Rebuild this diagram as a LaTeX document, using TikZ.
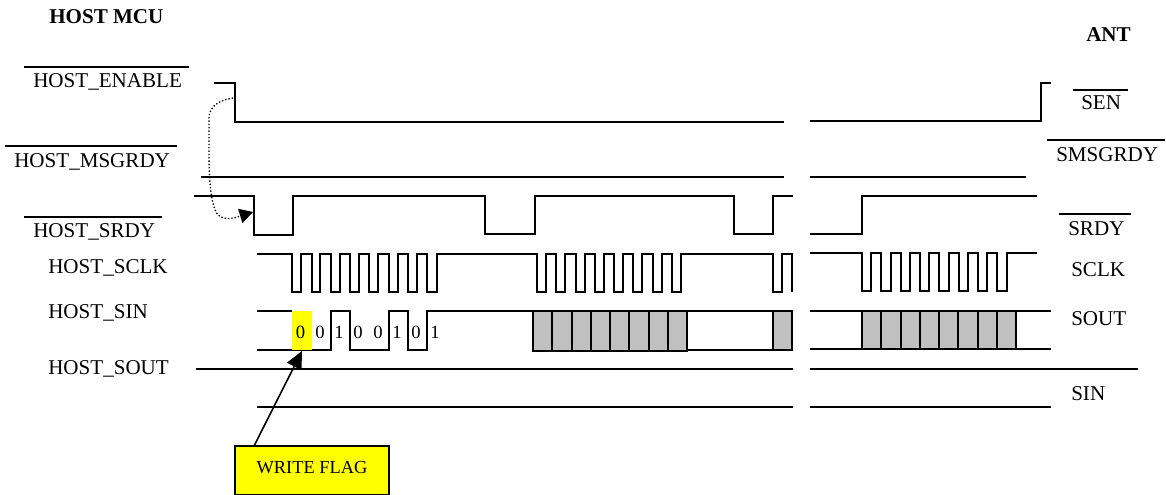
\documentclass[tikz,border=0pt]{standalone}
\usepackage{fontspec}
\setmainfont{Liberation Serif}
\usetikzlibrary{arrows.meta}
\definecolor{flagyellow}{RGB}{255,255,0}
\definecolor{cellgrey}{RGB}{192,192,192}
\tikzset{
  wave/.style={line width=1.2pt,line join=miter},
  rule/.style={line width=0.9pt},
  lbl/.style={anchor=base west,inner sep=0pt,font=\fontsize{15.8pt}{18pt}\selectfont},
  head/.style={anchor=base west,inner sep=0pt,font=\fontsize{15.8pt}{18pt}\selectfont\bfseries},
  digit/.style={inner sep=0pt,font=\fontsize{14pt}{16pt}\selectfont},
  cell/.style={draw=black,fill=cellgrey,line width=1.2pt},
  flagbox/.style={draw=black,fill=flagyellow,line width=1.2pt,inner sep=0pt,minimum width=115.5pt,minimum height=37pt},
  pointer/.style={line width=1.2pt,-{Triangle[length=13pt,width=12pt]}},
  hint/.style={line width=1pt,dash pattern=on 1pt off 1.5pt,-{Triangle[length=10pt,width=11pt]}}
}
\begin{document}
\begin{tikzpicture}[x=0.75pt,y=-0.75pt]
\useasboundingbox (0,0) rectangle (1166,495);
% titles
\node[head] (hmcu) at (49,24) {HOST MCU};
\node[head] (ant) at (1086,42) {ANT};
% left labels
\node[lbl] (lena) at (33,88) {HOST\_ENABLE};
\node[lbl] (lmsg) at (14,168) {HOST\_MSGRDY};
\node[lbl] (lsrdy) at (33,238) {HOST\_SRDY};
\node[lbl] (lsclk) at (48,273) {HOST\_SCLK};
\node[lbl] (lsin) at (48,318) {HOST\_SIN};
\node[lbl] (lsout) at (48,374) {HOST\_SOUT};
% right labels
\node[lbl] (rsen) at (1081,110) {SEN};
\node[lbl] (rmsg) at (1056,162) {SMSGRDY};
\node[lbl] (rsrdy) at (1068,235) {SRDY};
\node[lbl] (rsclk) at (1071,276) {SCLK};
\node[lbl] (rsout) at (1071,325) {SOUT};
\node[lbl] (rsin) at (1071,400) {SIN};
% overlines
\draw[rule] (24,67) -- (189,67);
\draw[rule] (5,146) -- (177,146);
\draw[rule] (24,217) -- (162,217);
\draw[rule] (1073,90) -- (1128,90);
\draw[rule] (1047,140) -- (1165,140);
\draw[rule] (1059,214) -- (1131,214);
% ENABLE
\draw[wave] (214,83) -- (235,83) -- (235,122) -- (784,122);
\draw[wave] (810,121) -- (1041,121) -- (1041,83) -- (1051,83);
% MSGRDY
\draw[wave] (201,177) -- (784,177);
\draw[wave] (810,177) -- (1026,177);
% SRDY
\draw[wave] (194,196) -- (254,196) -- (254,235) -- (293,235) -- (293,196) -- (485,196) -- (485,234) -- (535,234) -- (535,196) -- (734,196) -- (734,234) -- (773,234) -- (773,196) -- (793,196);
\draw[wave] (810,234) -- (862,234) -- (862,196) -- (1037,196);
% SCLK
\draw[wave] (257,254) -- (292,254) -- (292,292) -- (301,292) -- (301,254) -- (312,254) -- (312,292) -- (320,292) -- (320,254) -- (331,254) -- (331,292) -- (340,292) -- (340,254) -- (350,254) -- (350,292) -- (359,292) -- (359,254) -- (369,254) -- (369,292) -- (378,292) -- (378,254) -- (389,254) -- (389,292) -- (398,292) -- (398,254) -- (408,254) -- (408,292) -- (417,292) -- (417,254) -- (427,254) -- (427,292) -- (437,292) -- (437,254) -- (485,254) -- (537,254) -- (537,292) -- (546,292) -- (546,254) -- (556,254) -- (556,292) -- (565,292) -- (565,254) -- (576,254) -- (576,292) -- (585,292) -- (585,254) -- (595,254) -- (595,292) -- (604,292) -- (604,254) -- (614,254) -- (614,292) -- (623,292) -- (623,254) -- (633,254) -- (633,292) -- (642,292) -- (642,254) -- (653,254) -- (653,292) -- (662,292) -- (662,254) -- (672,254) -- (672,292) -- (681,292) -- (681,254) -- (773,254) -- (773,292) -- (782,292) -- (782,254) -- (792,254) -- (792,292);
\draw[wave] (810,253) -- (862,253) -- (862,291) -- (871,291) -- (871,253) -- (881,253) -- (881,291) -- (891,291) -- (891,253) -- (901,253) -- (901,291) -- (910,291) -- (910,253) -- (920,253) -- (920,291) -- (929,291) -- (929,253) -- (939,253) -- (939,291) -- (949,291) -- (949,253) -- (959,253) -- (959,291) -- (968,291) -- (968,253) -- (978,253) -- (978,291) -- (987,291) -- (987,253) -- (997,253) -- (997,291) -- (1007,291) -- (1007,253) -- (1037,253);
% SIN / SOUT bit stream
\draw[wave] (257,311) -- (292,311);
\draw[wave] (257,350) -- (331,350) -- (331,311) -- (350,311) -- (350,350) -- (389,350) -- (389,311) -- (408,311) -- (408,350) -- (427,350) -- (427,311) -- (793,311);
\draw[wave] (677,350) -- (793,350);
\fill[flagyellow] (292,311) rectangle (312,350);
\foreach \x/\d [count=\i] in {300.5/0,320/0,339/1,358/0,378/0,397/1,416/0,435/1}
  \node[digit] (bit\i) at (\x,332) {\d};
\foreach \xa/\xb in {533/552,552/572,572/591,591/610,610/629,629/649,649/668,668/687}
  \draw[cell] (\xa,311) rectangle (\xb,351);
\draw[cell] (773,311) rectangle (792,350);
\draw[wave] (810,311) -- (862,311);
\draw[wave] (810,349) -- (862,349);
\draw[wave] (1016,311) -- (1051,311);
\draw[wave] (1016,349) -- (1051,349);
\foreach \xa/\xb in {862/881,881/901,901/920,920/939,939/958,958/978,978/997,997/1016}
  \draw[cell] (\xa,311) rectangle (\xb,349);
% SIN lines
\draw[wave] (196,369) -- (793,369);
\draw[wave] (810,369) -- (1138,369);
\draw[wave] (257,407) -- (793,407);
\draw[wave] (810,407) -- (1051,407);
% write flag
\node[flagbox] (wf) at (312,470.5) {};
\node[inner sep=0pt,font=\fontsize{13.8pt}{16pt}\selectfont] (wft) at (312,468) {WRITE FLAG};
\coordinate (wfarrow) at (254,446);
\coordinate (wftip) at (302,351);
\draw[pointer] (wfarrow) -- (wftip);
% dotted hint
\coordinate (hs) at (233,98);
\coordinate (he) at (253,212);
\draw[hint] (hs) .. controls (220,100) and (209,106) .. (209,118) -- (209,150) .. controls (209,175) and (210,205) .. (218,215) .. controls (224,220) and (233,219) .. (240,216) -- (he);
\end{tikzpicture}
\end{document}
